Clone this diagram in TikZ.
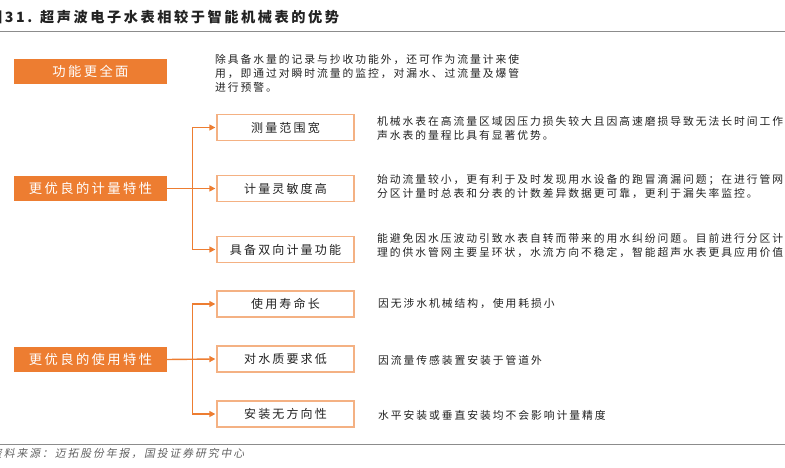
\documentclass[tikz,border=0pt]{standalone}
\usepackage{fontspec}
\setmainfont{Noto Sans CJK SC}
\newfontfamily\cjkspaced[LetterSpace=18]{Noto Sans CJK SC}
\newfontfamily\cjkslant[LetterSpace=18,FakeSlant=0.2]{Noto Sans CJK SC}
\usetikzlibrary{arrows.meta}
\definecolor{brand}{HTML}{ED7D31}
\definecolor{brandlight}{HTML}{F4B183}
\definecolor{rulegray}{HTML}{8C8C8C}
\definecolor{ink}{HTML}{222222}
\tikzset{
  headbox/.style={fill=brand, text=white, minimum width=153pt, minimum height=25pt, font=\cjkspaced\fontsize{13.3}{16}\selectfont},
  itembox/.style={draw=brandlight, line width=1.3pt, fill=white, text=ink, minimum width=137pt, minimum height=26pt, font=\cjkspaced\fontsize{12}{14}\selectfont},
  note/.style={anchor=west, align=left, text=ink, font=\cjkspaced\fontsize{10.8}{14}\selectfont},
  link/.style={draw=brand, line width=1.4pt, -{Triangle[length=6pt,width=6pt]}, shorten >=1pt},
}

\begin{document}
\begin{tikzpicture}[x=1pt,y=1pt]
		\tikzstyle{every node}+=[inner sep=0pt]
		\useasboundingbox (0,0) rectangle (785,-468);
		\node [anchor=west, text=ink, font=\cjkspaced\bfseries\fontsize{14.2}{16}\selectfont] (title) at (-12,-17) {图31. 超声波电子水表相较于智能机械表的优势};
		\draw [rulegray, line width=1pt] (0,-32) -- (785,-32);
		\node [headbox] (full) at (90.5,-71.5) {功能更全面};
		\node [note] (fullnote) at (215,-73) {除具备水量的记录与抄收功能外，还可作为流量计来使\\用，即通过对瞬时流量的监控，对漏水、过流量及爆管\\进行预警。};
		\node [headbox] (meter) at (90.5,-188.5) {更优良的计量特性};
		\node [itembox] (range) at (285.5,-127.5) {测量范围宽};
		\node [itembox] (sense) at (285.5,-188.5) {计量灵敏度高};
		\node [itembox] (bidir) at (285.5,-249.5) {具备双向计量功能};
		\draw [link] (meter.east) -- ++(25,0) |- (range.west);
		\draw [link] (meter.east) -- (sense.west);
		\draw [link] (meter.east) -- ++(25,0) |- (bidir.west);
		\node [note] (rangenote) at (377,-128) {机械水表在高流量区域因压力损失较大且因高速磨损导致无法长时间工作\\声水表的量程比具有显著优势。};
		\node [note] (sensenote) at (377,-187) {始动流量较小，更有利于及时发现用水设备的跑冒滴漏问题；在进行管网\\分区计量时总表和分表的计数差异数据更可靠，更利于漏失率监控。};
		\node [note] (bidirnote) at (377,-246) {能避免因水压波动引致水表自转而带来的用水纠纷问题。目前进行分区计\\理的供水管网主要呈环状，水流方向不稳定，智能超声水表更具应用价值};
		\node [headbox] (usage) at (90.5,-359.5) {更优良的使用特性};
		\node [itembox] (life) at (285.5,-304) {使用寿命长};
		\node [itembox] (water) at (285.5,-359) {对水质要求低};
		\node [itembox] (mount) at (285.5,-414) {安装无方向性};
		\draw [link] (usage.east) -- ++(25,0) |- (life.west);
		\draw [link] (usage.east) -- (water.west);
		\draw [link] (usage.east) -- ++(25,0) |- (mount.west);
		\node [note] (lifenote) at (378,-304) {因无涉水机械结构，使用耗损小};
		\node [note] (waternote) at (378,-360) {因流量传感装置安装于管道外};
		\node [note] (mountnote) at (378,-415) {水平安装或垂直安装均不会影响计量精度};
		\draw [rulegray, line width=1pt] (0,-444) -- (785,-444);
		\node [anchor=west, text=rulegray!70!black, font=\cjkslant\fontsize{10.8}{13}\selectfont] (source) at (-9,-454) {资料来源：迈拓股份年报，国投证券研究中心};
\end{tikzpicture}
\end{document}
